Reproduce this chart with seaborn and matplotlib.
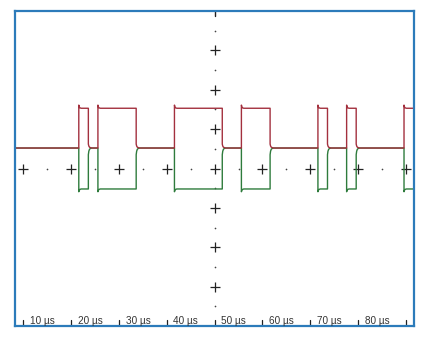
import numpy as np
import pandas as pd
import matplotlib
matplotlib.use("Agg")
import matplotlib.pyplot as plt
import seaborn as sns

# ---- data (time in µs, level in screen divisions) ----
edge_times_us = [21.6, 23.6, 25.6, 33.6, 41.6, 51.6, 55.6, 61.6, 71.6, 73.6, 77.6, 79.6, 89.6]
t_start_us = 8.2
t_end_us = 91.75
recessive_level = 0.52
canh_dominant = 1.53
canl_dominant = -0.52
# ringing after a falling (dominant->recessive) edge
fall_ring_dt = [0.0, 0.1, 0.25, 0.45, 0.75]
fall_ring_h = [0.10, 0.05, 0.02, 0.01, 0.0]
fall_ring_l = [-0.17, -0.08, -0.03, -0.01, 0.0]
# overshoot after a rising (recessive->dominant) edge
rise_ring_dt = [0.0, 0.1, 0.25, 0.5]
rise_ring_h = [0.08, 0.03, 0.01, 0.0]
rise_ring_l = [-0.07, -0.03, -0.01, 0.0]
tick_times_us = [10, 20, 30, 40, 50, 60, 70, 80, 90]
tick_labels = ["10 µs", "20 µs", "30 µs", "40 µs", "50 µs", "60 µs", "70 µs", "80 µs", ""]

# ---- build the traces from the edges ----
def build(dom, fall_ring, rise_ring):
    ts, ys = [t_start_us], [recessive_level]
    state = 0
    for e in edge_times_us:
        cur = recessive_level if state == 0 else dom
        ts.append(e); ys.append(cur)
        state = 1 - state
        base = recessive_level if state == 0 else dom
        ring_dt = fall_ring_dt if state == 0 else rise_ring_dt
        ring = fall_ring if state == 0 else rise_ring
        for dt, off in zip(ring_dt, ring):
            ts.append(e + dt); ys.append(base + off)
    final = recessive_level if state == 0 else dom
    ts.append(t_end_us); ys.append(final)
    return ts, ys

th, yh = build(canh_dominant, fall_ring_h, rise_ring_h)
tl, yl = build(canl_dominant, fall_ring_l, rise_ring_l)
df = pd.concat([
    pd.DataFrame({"t": tl, "v": yl, "sig": "CAN_L", "order": range(len(tl))}),
    pd.DataFrame({"t": th, "v": yh, "sig": "CAN_H", "order": range(len(th))}),
])

sns.set_theme(style="white")
plt.rcParams["font.family"] = ["Liberation Sans", "DejaVu Sans"]

W, H = 427, 340
fig = plt.figure(figsize=(W / 100, H / 100), dpi=100)
fig.patch.set_facecolor("white")
left, right, top, bottom = 14.7, 414.3, 11, 326
ax = fig.add_axes([left / W, (H - bottom) / H, (right - left) / W, (bottom - top) / H])
ax.set_facecolor("white")

sns.lineplot(data=df, x="t", y="v", hue="sig", units="sig", estimator=None, sort=False,
             palette={"CAN_L": "#2e7b3c", "CAN_H": "#a3303e"}, linewidth=1.0,
             legend=False, ax=ax)

ax.set_xlim(t_start_us, t_end_us)
ax.set_ylim(-4, 4)
ax.set_xticks([]); ax.set_yticks([])
ax.set_xlabel(""); ax.set_ylabel("")
for s in ax.spines.values():
    s.set_color("#2c7bba")
    s.set_linewidth(1.6)
    s.set_visible(True)

gc = "#222222"
# horizontal centre graticule
ax.plot(tick_times_us, [0] * len(tick_times_us), ls="none", marker="+", ms=7, mew=0.9, color=gc, zorder=1)
half_t = [t + 5 for t in tick_times_us[:-1]]
ax.plot(half_t, [0] * len(half_t), ls="none", marker="o", ms=1.2, mew=0, color="#444", zorder=1)
# vertical centre graticule
vy = [-3, -2, -1, 1, 2, 3]
ax.plot([50] * len(vy), vy, ls="none", marker="+", ms=7, mew=0.9, color=gc, zorder=1)
vh = [-3.5, -2.5, -1.5, -0.5, 0.5, 1.5, 2.5, 3.5]
ax.plot([50] * len(vh), vh, ls="none", marker="o", ms=1.2, mew=0, color="#444", zorder=1)
ax.plot([50, 50], [3.88, 4], color=gc, lw=1.0)

# time scale along the bottom
for t, lab in zip(tick_times_us, tick_labels):
    ax.plot([t, t], [-4, -3.84], color=gc, lw=0.9)
    if lab:
        ax.text(t + 1.4, -3.87, lab, fontsize=7.2, color="#333", ha="left", va="center")

fig.savefig("out.png", dpi=100, facecolor="white")
